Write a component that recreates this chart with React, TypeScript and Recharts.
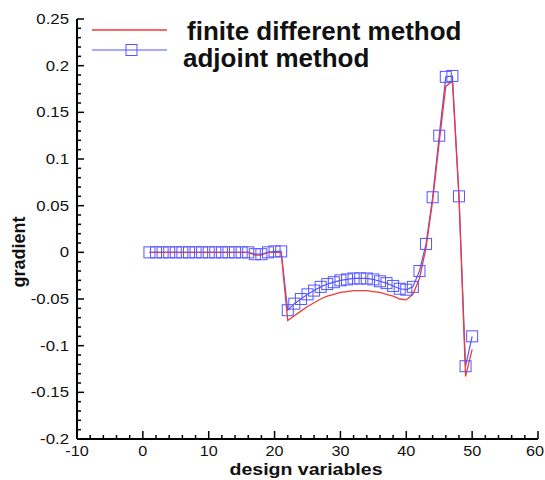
import React from 'react';
import { LineChart, Line, XAxis, YAxis, Customized } from 'recharts';

const designVars = [1,2,3,4,5,6,7,8,9,10,11,12,13,14,15,16,17,18,19,20,21,22,23,24,25,26,27,28,29,30,31,32,33,34,35,36,37,38,39,40,41,42,43,44,45,46,47,48,49,50];

const finiteDiff = [0,0,0,0,0,0,0,0,0,0,0,0,0,0,0,0,-0.003,-0.003,0,0,0,
  -0.073,-0.068,-0.063,-0.058,-0.054,-0.05,-0.047,-0.045,-0.043,-0.042,-0.041,-0.041,-0.041,-0.042,-0.043,-0.045,-0.047,-0.05,-0.051,
  -0.045,-0.028,0.005,0.055,0.118,0.178,0.183,0.06,-0.133,-0.104];

const adjoint = [0,0,0,0,0,0,0,0,0,0,0,0,0,0,0,0,-0.002,-0.002,0,0.001,0.001,
  -0.062,-0.055,-0.05,-0.045,-0.041,-0.037,-0.034,-0.032,-0.03,-0.029,-0.028,-0.028,-0.028,-0.029,-0.031,-0.033,-0.036,-0.039,-0.04,
  -0.037,-0.02,0.009,0.059,0.125,0.188,0.189,0.06,-0.122,-0.09];

const xMajorTicks = [-10, 0, 10, 20, 30, 40, 50, 60];
const xMinorTicks = [-8,-6,-4,-2,2,4,6,8,12,14,16,18,22,24,26,28,32,34,36,38,42,44,46,48,52,54,56,58];
const yMajorTicks = [-0.2, -0.15, -0.1, -0.05, 0, 0.05, 0.1, 0.15, 0.2, 0.25];
const yMajorLabels = ['-0.2', '-0.15', '-0.1', '-0.05', '0', '0.05', '0.1', '0.15', '0.2', '0.25'];
const yMinorTicks = [
  -0.19,-0.18,-0.17,-0.16,-0.14,-0.13,-0.12,-0.11,-0.09,-0.08,-0.07,-0.06,-0.04,-0.03,-0.02,-0.01,
  0.01,0.02,0.03,0.04,0.06,0.07,0.08,0.09,0.11,0.12,0.13,0.14,0.16,0.17,0.18,0.19,0.21,0.22,0.23,0.24];

const seriesNames = ['finite different method', 'adjoint method'];

const data = designVars.map((x, i) => ({ x, fd: finiteDiff[i], adj: adjoint[i] }));
const xTicks = [...xMajorTicks, ...xMinorTicks].sort((a, b) => a - b);
const yTicks = [...yMajorTicks, ...yMinorTicks].sort((a, b) => a - b);

const FONT = 'Liberation Sans, Arial, Helvetica, sans-serif';
const RED = '#f23a3a';
const BLUE = '#5555ff';

const XTick = (props: any) => {
  const { x, y, payload } = props;
  const v = payload.value;
  const major = xMajorTicks.includes(v);
  const last = v === 60;
  return (
    <g>
      <line x1={x} y1={y} x2={x} y2={y - (major ? 8 : 4)} stroke="#000" strokeWidth={1.5} />
      {major && (
        <text x={0} y={0} transform={`translate(${last ? x - 3 : x},${y + 17}) scale(1.08,1)`} textAnchor="middle"
          fontSize={15} fontFamily={FONT} fill="#111">{String(v)}</text>
      )}
    </g>
  );
};

const YTick = (props: any) => {
  const { x, y, payload } = props;
  const v = payload.value;
  const idx = yMajorTicks.findIndex((m) => Math.abs(m - v) < 1e-9);
  const major = idx >= 0;
  return (
    <g>
      <line x1={x} y1={y} x2={x + (major ? 7 : 4)} y2={y} stroke="#000" strokeWidth={1.5} />
      {major && (
        <text x={0} y={0} transform={`translate(${x - 8},${y + 5}) scale(1.12,1)`} textAnchor="end"
          fontSize={15} fontFamily={FONT} fill="#111">{yMajorLabels[idx]}</text>
      )}
    </g>
  );
};

const SquareDot = (props: any) => {
  const { cx, cy, index } = props;
  if (cx == null || cy == null) return <g key={index} />;
  return <rect key={index} x={cx - 5.5} y={cy - 5.5} width={11} height={11} fill="none" stroke={BLUE} strokeWidth={1} />;
};

const LegendBox = () => (
  <g>
    <line x1={92} y1={30} x2={167} y2={30} stroke={RED} strokeWidth={1.3} />
    <line x1={92} y1={50} x2={167} y2={50} stroke={BLUE} strokeWidth={1.2} />
    <rect x={126} y={44.5} width={11} height={11} fill="none" stroke={BLUE} strokeWidth={1} />
    <text x={187} y={40} fontSize={26} fontWeight="bold" fontFamily={FONT} fill="#111">{seriesNames[0]}</text>
    <text x={183} y={67} fontSize={26} fontWeight="bold" fontFamily={FONT} fill="#111">{seriesNames[1]}</text>
    <text x={0} y={0} transform="translate(25,252) rotate(-90)" textAnchor="middle" fontSize={18}
      fontWeight="bold" fontFamily={FONT} fill="#111">gradient</text>
    <text x={0} y={0} transform="translate(306,475) scale(1.15,1)" textAnchor="middle" fontSize={17}
      fontWeight="bold" fontFamily={FONT} fill="#111">design variables</text>
  </g>
);

export default function App() {
  return (
    <div style={{ position: 'absolute', left: 0, top: 0, width: 545, height: 480, background: '#fff' }}>
      <LineChart width={545} height={480} data={data} margin={{ top: 19, right: 7, left: 0, bottom: 0 }}>
        <XAxis dataKey="x" type="number" domain={[-10, 60]} ticks={xTicks} interval={0}
          allowDataOverflow height={41} tickSize={0} tickMargin={0} tickLine={false}
          axisLine={{ stroke: '#000', strokeWidth: 2 }} tick={<XTick />} />
        <YAxis type="number" domain={[-0.2, 0.25]} ticks={yTicks} interval={0}
          allowDataOverflow width={77} tickSize={0} tickMargin={0} tickLine={false}
          axisLine={{ stroke: '#000', strokeWidth: 2 }} tick={<YTick />} />
        <Line type="linear" dataKey="adj" stroke={BLUE} strokeWidth={1.2} dot={<SquareDot />}
          isAnimationActive={false} />
        <Line type="linear" dataKey="fd" stroke={RED} strokeWidth={1.3} dot={false}
          isAnimationActive={false} />
        <Customized component={LegendBox} />
      </LineChart>
    </div>
  );
}
